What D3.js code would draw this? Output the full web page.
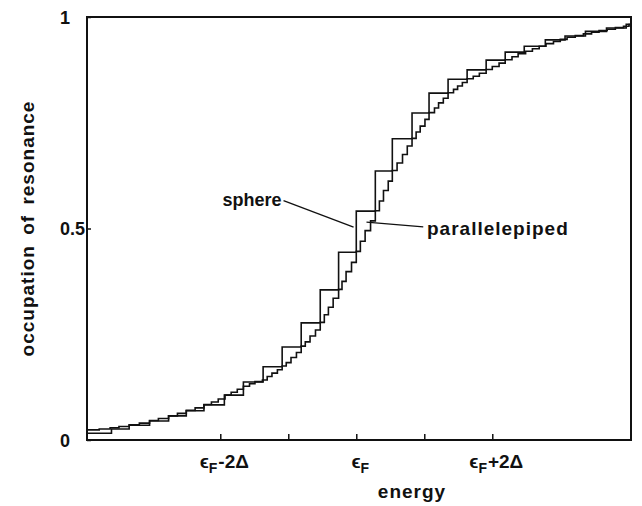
<!DOCTYPE html>
<html><head><meta charset="utf-8">
<script src="https://cdn.jsdelivr.net/npm/d3@7"></script>
<style>
body{margin:0;background:#fff}
text{font-family:"Liberation Sans",Arial,Helvetica,sans-serif;font-weight:bold;fill:#111}
</style>
</head><body><svg id="c" width="642" height="506"></svg>
<script>
// energy in units of Delta relative to eps_F
const sphereEnergy = [-3.96,-3.60,-3.34,-3.04,-2.76,-2.50,-2.24,-1.94,-1.66,-1.37,-1.09,-0.81,-0.53,-0.26,0.00,0.28,0.53,0.82,1.07,1.35,1.63,1.91,2.19,2.47,2.78,3.07,3.37,3.68,3.97];
const sphereOcc    = [0.016,0.026,0.035,0.045,0.057,0.069,0.083,0.106,0.137,0.173,0.220,0.277,0.355,0.444,0.541,0.636,0.712,0.773,0.820,0.853,0.875,0.898,0.917,0.931,0.946,0.955,0.966,0.974,0.983];

const paraEnergy = [-3.96,-3.78,-3.62,-3.49,-3.34,-3.19,-3.04,-2.91,-2.76,-2.63,-2.50,-2.37,-2.24,-2.13,-2.03,-1.93,-1.84,-1.75,-1.66,-1.57,-1.49,-1.38,-1.31,-1.24,-1.16,-1.09,-1.03,-0.96,-0.88,-0.81,-0.75,-0.68,-0.60,-0.53,-0.47,-0.41,-0.34,-0.26,-0.21,-0.15,-0.07,0.00,0.06,0.13,0.21,0.28,0.34,0.40,0.47,0.53,0.60,0.68,0.75,0.82,0.88,0.94,1.01,1.07,1.15,1.21,1.28,1.35,1.43,1.49,1.56,1.63,1.72,1.81,1.91,2.00,2.10,2.19,2.29,2.38,2.49,2.59,2.69,2.79,2.90,3.00,3.10,3.22,3.34,3.46,3.57,3.69,3.81,3.93,4.01];
const paraOcc    = [0.024,0.026,0.029,0.032,0.036,0.040,0.046,0.051,0.057,0.063,0.070,0.076,0.084,0.090,0.097,0.106,0.113,0.120,0.127,0.133,0.138,0.142,0.150,0.158,0.166,0.175,0.183,0.195,0.207,0.222,0.232,0.246,0.260,0.278,0.296,0.314,0.335,0.356,0.375,0.398,0.420,0.446,0.470,0.495,0.518,0.542,0.565,0.590,0.612,0.637,0.655,0.675,0.695,0.713,0.728,0.742,0.758,0.774,0.785,0.797,0.808,0.821,0.829,0.837,0.845,0.854,0.860,0.867,0.876,0.883,0.891,0.899,0.906,0.913,0.919,0.925,0.931,0.937,0.942,0.947,0.952,0.956,0.960,0.964,0.968,0.971,0.975,0.978,0.982];

const energyDomain = [-3.96, 4.04];
const energyTicks = [-2,-1,0,1,2];
const energyLabelTicks = [-2,0,2];
const energyLabelSuffix = ["-2\u0394","","+2\u0394"];
const occTicks = [0,0.5,1];
const occTickLabels = ["0","0.5","1"];
const seriesNames = ["sphere","parallelepiped"];

const svg = d3.select("#c");
const x = d3.scaleLinear().domain(energyDomain).range([87,631]);
const y = d3.scaleLinear().domain([0,1]).range([440,17]);
const ink = "#111";

// steps
const line = d3.line().x(d=>x(d[0])).y(d=>y(d[1])).curve(d3.curveStepAfter);
function pts(E,O){const p=E.map((e,i)=>[e,O[i]]);p.push([energyDomain[1],O[O.length-1]]);return p;}
svg.append("path").datum(pts(sphereEnergy,sphereOcc)).attr("d",line)
  .attr("fill","none").attr("stroke",ink).attr("stroke-width",1.6);
svg.append("path").datum(pts(paraEnergy,paraOcc)).attr("d",line)
  .attr("fill","none").attr("stroke",ink).attr("stroke-width",1.6);

// axes (ticks inward)
const gx = svg.append("g").attr("transform","translate(0,440)")
  .call(d3.axisBottom(x).tickValues(energyTicks).tickSize(-6).tickFormat(""));
gx.select(".domain").remove();
gx.selectAll(".tick line").attr("stroke",ink).attr("stroke-width",1.5);
const gy = svg.append("g").attr("transform","translate(87,0)")
  .call(d3.axisLeft(y).tickValues(occTicks).tickSize(-4).tickFormat(""));
gy.select(".domain").remove();
gy.selectAll(".tick line").attr("stroke",ink).attr("stroke-width",1.5);

// frame
svg.append("rect").attr("x",x.range()[0]).attr("y",y.range()[1])
  .attr("width",x.range()[1]-x.range()[0]).attr("height",y.range()[0]-y.range()[1])
  .attr("fill","none").attr("stroke",ink).attr("stroke-width",2);

// y tick labels aligned on decimal point
occTicks.forEach((v,i)=>{
  const parts = occTickLabels[i].split(".");
  svg.append("text").attr("x",70).attr("y",y(v)+6.5).attr("text-anchor","end")
    .attr("font-size",18).text(parts[0]);
  if(parts.length>1) svg.append("text").attr("x",70).attr("y",y(v)+6.5)
    .attr("text-anchor","start").attr("font-size",18).text("."+parts[1]);
});

// x tick labels
energyLabelTicks.forEach((v,i)=>{
  const t = svg.append("text").attr("x",x(v)+4).attr("y",468)
    .attr("text-anchor","middle").attr("font-size",19);
  t.append("tspan").text("\u03F5");
  t.append("tspan").attr("font-size",14).attr("dy",5).text("F");
  if(energyLabelSuffix[i]) t.append("tspan").attr("dy",-5).attr("dx",1).text(energyLabelSuffix[i]);
});

// axis titles
svg.append("text").attr("x",412).attr("y",498).attr("text-anchor","middle")
  .attr("font-size",19).attr("letter-spacing",1).text("energy");
svg.append("text").attr("transform","translate(34,"+(y(0.5))+") rotate(-90)")
  .attr("text-anchor","middle").attr("font-size",19).attr("letter-spacing",1)
  .attr("word-spacing",4).text("occupation of resonance");

// annotations
svg.append("line").attr("x1",x(-1.07)).attr("y1",y(0.566)).attr("x2",x(-0.04)).attr("y2",y(0.503))
  .attr("stroke",ink).attr("stroke-width",1.3);
svg.append("text").attr("x",x(-1.10)).attr("y",y(0.554)).attr("text-anchor","end")
  .attr("font-size",18).text(seriesNames[0]);
svg.append("line").attr("x1",x(0.15)).attr("y1",y(0.515)).attr("x2",x(0.985)).attr("y2",y(0.504))
  .attr("stroke",ink).attr("stroke-width",1.3);
svg.append("text").attr("x",x(1.04)).attr("y",y(0.485)).attr("text-anchor","start")
  .attr("font-size",19).attr("letter-spacing",1).text(seriesNames[1]);
</script>
</body></html>
